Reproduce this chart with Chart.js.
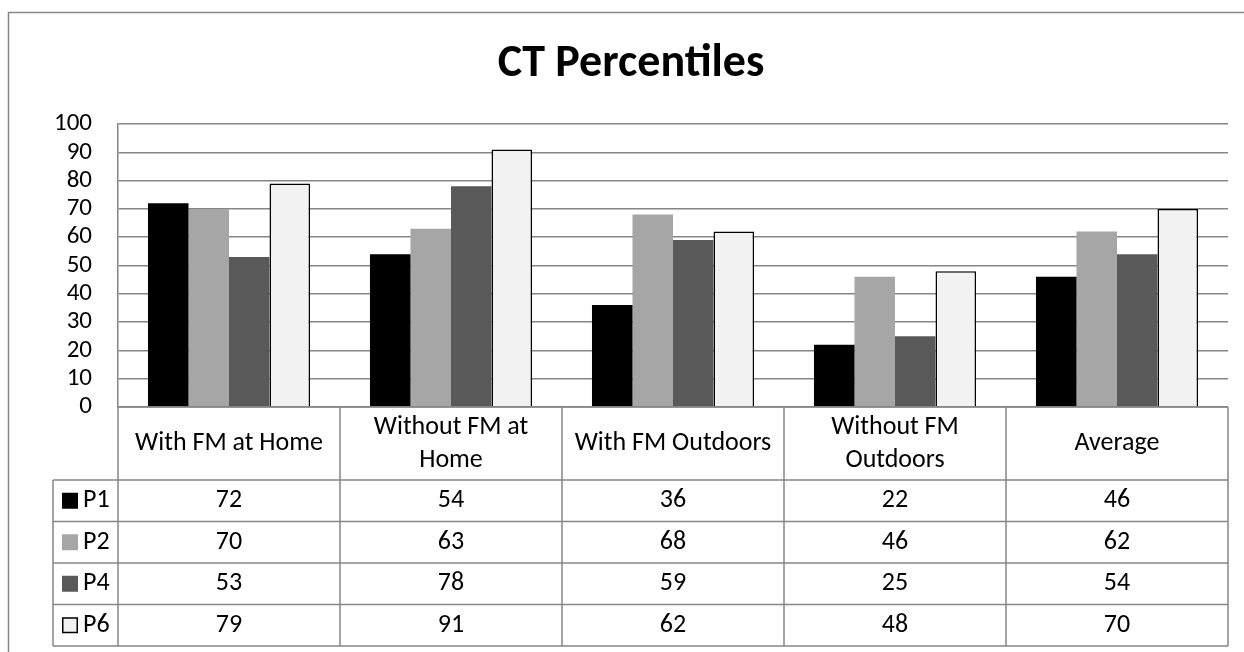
<!DOCTYPE html>
<html>
<head>
<meta charset="utf-8">
<script src="https://cdn.jsdelivr.net/npm/chart.js@4.4.1/dist/chart.umd.min.js"></script>
<style>
html,body{margin:0;padding:0;background:#fff;}
canvas{display:block;}
</style>
</head>
<body>
<canvas id="c" width="1244" height="652"></canvas>
<script>
const chartTitle = "CT Percentiles";
const categories = ["With FM at Home", "Without FM at Home", "With FM Outdoors", "Without FM Outdoors", "Average"];
const categoryLines = [["With FM at Home"], ["Without FM at", "Home"], ["With FM Outdoors"], ["Without FM", "Outdoors"], ["Average"]];
const seriesNames = ["P1", "P2", "P4", "P6"];
const p1 = [72, 54, 36, 22, 46];
const p2 = [70, 63, 68, 46, 62];
const p4 = [53, 78, 59, 25, 54];
const p6 = [79, 91, 62, 48, 70];
const yTicks = [0, 10, 20, 30, 40, 50, 60, 70, 80, 90, 100];

const FONT = "Carlito, Lato, 'Liberation Sans', sans-serif";
const GRID = "#868686";
const fills = ["#000000", "#a6a6a6", "#595959", "#f2f2f2"];
const borders = ["#000000", "#a6a6a6", "#595959", "#000000"];
const bw = [0, 0, 0, 1.5];
const seriesData = [p1, p2, p4, p6];

const tablePlugin = {
  id: "tablePlugin",
  afterDraw(chart) {
    const ctx = chart.ctx;
    const ca = chart.chartArea;
    const xs = chart.scales.x;
    const n = categories.length;
    const colW = (ca.right - ca.left) / n;
    const headTop = ca.bottom;
    const headBot = 480;
    const rowH = 41.5;
    const legLeft = 53;
    ctx.save();
    // outer border
    ctx.strokeStyle = GRID;
    ctx.lineWidth = 1.5;
    ctx.beginPath();
    ctx.moveTo(8.5, 660); ctx.lineTo(8.5, 12.5); ctx.lineTo(1250, 12.5);
    ctx.stroke();
    // title
    ctx.fillStyle = "#000";
    ctx.font = "bold 46px " + FONT;
    ctx.textAlign = "center";
    ctx.textBaseline = "alphabetic";
    ctx.fillText(chartTitle, 631, 76);
    // table lines
    ctx.strokeStyle = GRID;
    ctx.lineWidth = 1.5;
    ctx.beginPath();
    ctx.moveTo(ca.left, headTop); ctx.lineTo(ca.right, headTop);
    for (let r = 0; r <= seriesNames.length; r++) {
      const y = headBot + r * rowH;
      ctx.moveTo(legLeft, y); ctx.lineTo(ca.right, y);
    }
    const bottom = headBot + seriesNames.length * rowH;
    ctx.moveTo(legLeft, headBot); ctx.lineTo(legLeft, bottom);
    for (let i = 0; i <= n; i++) {
      const x = (i < n ? xs.getPixelForValue(i) - colW / 2 : xs.getPixelForValue(n - 1) + colW / 2);
      ctx.moveTo(x, headTop); ctx.lineTo(x, bottom);
    }
    ctx.stroke();
    // header labels
    ctx.fillStyle = "#000";
    ctx.font = "26px " + FONT;
    ctx.textAlign = "center";
    ctx.textBaseline = "middle";
    const headMid = (headTop + headBot) / 2;
    for (let i = 0; i < n; i++) {
      const x = xs.getPixelForValue(i);
      const lines = categoryLines[i];
      const lh = 33;
      const start = headMid - (lines.length - 1) * lh / 2;
      lines.forEach((t, k) => ctx.fillText(t, x, start + k * lh));
    }
    // data rows
    for (let r = 0; r < seriesNames.length; r++) {
      const yc = headBot + r * rowH + rowH / 2;
      ctx.fillStyle = fills[r];
      ctx.fillRect(62, yc - 8, 16, 16);
      if (r === 3) {
        ctx.strokeStyle = "#000";
        ctx.lineWidth = 1.5;
        ctx.strokeRect(62.75, yc - 7.25, 14.5, 14.5);
      }
      ctx.fillStyle = "#000";
      ctx.textAlign = "left";
      ctx.fillText(seriesNames[r], 83, yc);
      ctx.textAlign = "center";
      for (let i = 0; i < n; i++) {
        ctx.fillText(String(seriesData[r][i]), xs.getPixelForValue(i), yc);
      }
    }
    ctx.restore();
  }
};

const datasets = seriesNames.map((name, k) => ({
  label: name,
  data: seriesData[k],
  backgroundColor: fills[k],
  borderColor: borders[k],
  borderWidth: bw[k],
  borderSkipped: "bottom",
  categoryPercentage: 1 / 1.37,
  barPercentage: 1.0
}));

new Chart(document.getElementById("c"), {
  type: "bar",
  data: { labels: categories, datasets },
  options: {
    responsive: false,
    animation: false,
    devicePixelRatio: 1,
    layout: { padding: { left: 0, top: 124, right: 16, bottom: 245 } },
    plugins: { legend: { display: false }, title: { display: false }, tooltip: { enabled: false } },
    scales: {
      x: { display: false },
      y: {
        min: 0, max: 100,
        afterBuildTicks(scale) { scale.ticks = yTicks.map(v => ({ value: v })); },
        afterFit(scale) { scale.width = 118; },
        ticks: { color: "#000", font: { family: FONT, size: 25 }, padding: 26, autoSkip: false },
        grid: { color: GRID, lineWidth: 1.5, drawTicks: false },
        border: { display: true, color: GRID, width: 1.5 }
      }
    }
  },
  plugins: [tablePlugin]
});
</script>
</body>
</html>
